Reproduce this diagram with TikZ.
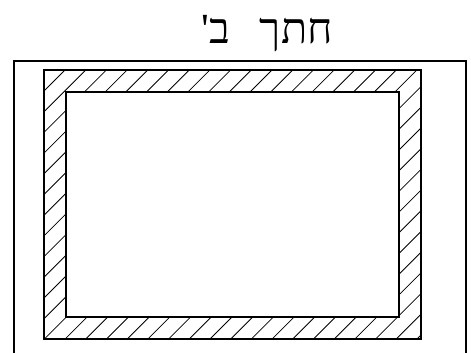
\documentclass[tikz,border=0pt]{standalone}
\usepackage{fontspec}
\setmainfont{Liberation Serif}
\newfontfamily\hebfont[Script=Hebrew]{Liberation Serif}
\TeXXeTstate=1
\begin{document}
\begin{tikzpicture}[x=1pt, y=1pt, line join=miter]
\useasboundingbox (0,0) rectangle (471,353);
\node[anchor=base east, inner sep=0pt, font=\hebfont\fontsize{43}{52}\selectfont] (title) at (333,309) {\beginR חתך\hspace{30pt}ב'\endR};
\draw[line width=2pt] (14,0) -- (14,292) -- (466,292) -- (466,0);
\begin{scope}[even odd rule]
\clip (44,14) rectangle (421,283) (66,36) rectangle (399,261);
\foreach \k in {0,...,34}
  \draw[line width=0.8pt] ({-218+20.7*\k-300},-300) -- ({-218+20.7*\k+400},400);
\end{scope}
\draw[line width=1.4pt] (44,14) rectangle (421,283);
\draw[line width=1.4pt] (66,36) rectangle (399,261);
\end{tikzpicture}
\end{document}
